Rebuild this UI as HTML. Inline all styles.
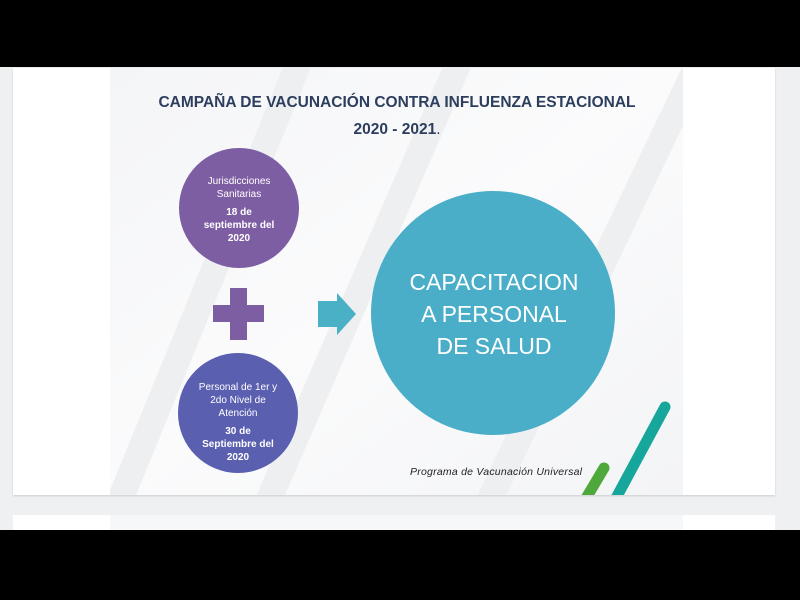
<!DOCTYPE html>
<html><head><meta charset="utf-8"><style>
body{margin:0;width:800px;height:600px;background:#000;position:relative;overflow:hidden;font-family:"Liberation Sans","DejaVu Sans",sans-serif}
.abs{position:absolute}
</style></head><body>
<div class="abs" style="left:0;top:67px;width:800px;height:463px;background:#eef0f2"></div>
<div class="abs" style="left:13px;top:68px;width:762px;height:427px;background:#fff;box-shadow:0 1px 2px rgba(0,0,0,.15)"></div>
<div class="abs" style="left:13px;top:515px;width:762px;height:15px;background:#fff"></div>
<svg class="abs" style="left:0;top:0" width="800" height="600">
<defs>
<linearGradient id="bg" x1="0" y1="0" x2="1" y2="1">
<stop offset="0" stop-color="#f4f5f7"/><stop offset=".5" stop-color="#fbfbfc"/><stop offset="1" stop-color="#f3f4f6"/>
</linearGradient>
<clipPath id="c"><rect x="110" y="68" width="573" height="427"/></clipPath>
</defs>
<rect x="110" y="68" width="573" height="427" fill="url(#bg)"/>
<g clip-path="url(#c)" stroke="#eeeff1" stroke-width="26">
<line x1="300" y1="60" x2="120" y2="500"/>
<line x1="460" y1="60" x2="260" y2="520"/>
<line x1="700" y1="60" x2="480" y2="520"/>
</g>
<rect x="110" y="515" width="573" height="15" fill="#f6f7f8"/>
<text x="397" y="107" text-anchor="middle" font-size="15.5" font-weight="bold" fill="#2c3d5e">CAMPAÑA DE VACUNACIÓN CONTRA INFLUENZA ESTACIONAL</text>
<text x="397" y="134" text-anchor="middle" font-size="15.5" font-weight="bold" fill="#2c3d5e">2020 - 2021<tspan font-weight="normal">.</tspan></text>
<circle cx="239" cy="208" r="60" fill="#7e5ea3"/>
<g fill="#fff" font-size="10" text-anchor="middle">
<text x="239" y="184">Jurisdicciones</text>
<text x="239" y="197">Sanitarias</text>
<text x="239" y="215" font-weight="bold">18 de</text>
<text x="239" y="228" font-weight="bold">septiembre del</text>
<text x="239" y="241" font-weight="bold">2020</text>
</g>
<rect x="230" y="288" width="17" height="52" fill="#7e5ea3"/>
<rect x="213" y="305" width="51" height="17" fill="#7e5ea3"/>
<polygon points="318,301 337,301 337,293 356,314 337,335 337,327 318,327" fill="#4ab0c6"/>
<circle cx="238" cy="413" r="60" fill="#5a5fb0"/>
<g fill="#fff" font-size="10" text-anchor="middle">
<text x="238" y="390">Personal de 1er y</text>
<text x="238" y="403">2do Nivel de</text>
<text x="238" y="416">Atención</text>
<text x="238" y="434" font-weight="bold">30 de</text>
<text x="238" y="447" font-weight="bold">Septiembre del</text>
<text x="238" y="460" font-weight="bold">2020</text>
</g>
<circle cx="493" cy="313" r="122" fill="#4aaec8"/>
<g fill="#fff" font-size="23" text-anchor="middle">
<text x="494" y="290">CAPACITACION</text>
<text x="494" y="322">A PERSONAL</text>
<text x="494" y="354">DE SALUD</text>
</g>
<text x="410" y="475" font-size="10.5" font-style="italic" fill="#222" textLength="172">Programa de Vacunación Universal</text>
<g clip-path="url(#c)" stroke-linecap="round" stroke-width="11">
<line x1="604" y1="468" x2="585" y2="500" stroke="#4ea83c"/>
<line x1="665" y1="407" x2="615" y2="500" stroke="#17a69c"/>
</g>
</svg>
</body></html>
